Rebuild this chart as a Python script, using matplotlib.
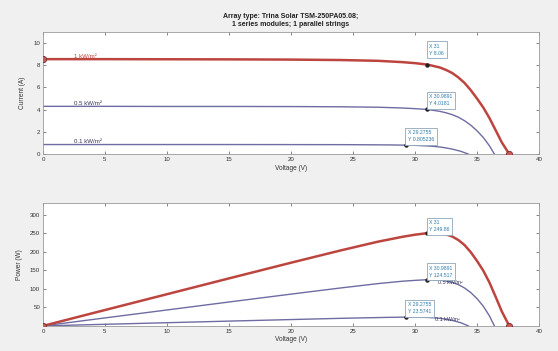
import matplotlib
matplotlib.use('Agg')
import matplotlib.pyplot as plt

plt.rcParams['font.family'] = ['Liberation Sans', 'DejaVu Sans']

# Irradiance labels
labels = ['1 kW/m²', '0.5 kW/m²', '0.1 kW/m²']

# I-V / P-V curves
v_1000 = [0, 5, 10, 15, 20, 24, 27, 29, 30, 31, 32, 32.5, 33, 33.5, 34, 34.5, 35, 35.5, 36, 36.5, 37, 37.6]
i_1000 = [8.55, 8.55, 8.54, 8.53, 8.51, 8.47, 8.40, 8.28, 8.19, 8.06, 7.80, 7.58, 7.30, 6.90, 6.40, 5.75, 5.00, 4.20, 3.25, 2.15, 1.05, 0]
p_1000 = [0, 42.8, 85.4, 128.0, 170.2, 203.3, 226.8, 240.1, 245.7, 249.86, 249.6, 246.4, 240.9, 231.2, 217.6, 198.4, 175.0, 149.1, 117.0, 78.5, 38.9, 0]

v_500 = [0, 5, 10, 15, 20, 24, 27, 29, 30, 31, 32, 32.5, 33, 33.5, 34, 34.5, 35, 35.5, 36, 36.4]
i_500 = [4.30, 4.30, 4.29, 4.29, 4.28, 4.26, 4.22, 4.15, 4.09, 4.02, 3.85, 3.72, 3.55, 3.32, 3.00, 2.60, 2.10, 1.50, 0.75, 0]
p_500 = [0, 21.5, 42.9, 64.4, 85.6, 102.2, 113.9, 120.4, 122.7, 124.5, 123.2, 120.9, 117.2, 111.2, 102.0, 89.7, 73.5, 53.3, 27.0, 0]

v_100 = [0, 5, 10, 15, 20, 24, 26, 28, 29.28, 30, 31, 31.5, 32, 32.5, 33, 33.7, 34.3]
i_100 = [0.86, 0.86, 0.86, 0.86, 0.855, 0.85, 0.84, 0.825, 0.805, 0.785, 0.735, 0.695, 0.64, 0.555, 0.45, 0.25, 0]
p_100 = [0, 4.3, 8.6, 12.9, 17.1, 20.4, 21.8, 23.1, 23.57, 23.55, 22.8, 21.9, 20.5, 18.0, 14.9, 8.4, 0]

# data tips (maximum power points)
mpp_v = [31, 30.9891, 29.2755]
mpp_i = [8.06, 4.0181, 0.805236]
mpp_p = [249.86, 124.517, 23.5741]
mpp_v_txt = ['31', '30.9891', '29.2755']
mpp_i_txt = ['8.06', '4.0181', '0.805236']
mpp_p_txt = ['249.86', '124.517', '23.5741']

xticks = [0, 5, 10, 15, 20, 25, 30, 35, 40]
iticks = [0, 2, 4, 6, 8, 10]
pticks = [50, 100, 150, 200, 250, 300]

red = '#bd4540'
blue = '#6e6ca2'
tipc = '#2c7aa8'
fs = 4.4

fig = plt.figure(figsize=(5.58, 3.51), dpi=100, facecolor='#f0f0f0')
ax1 = fig.add_axes([0.077, 0.561, 0.889, 0.348])
ax2 = fig.add_axes([0.077, 0.0715, 0.889, 0.349])


def style(ax, yticks, ylim):
    ax.set_xlim(0, 40)
    ax.set_ylim(*ylim)
    ax.set_xticks(xticks)
    ax.set_yticks(yticks)
    ax.tick_params(direction='in', length=2.5, width=0.5, labelsize=fs,
                   colors='#555555', labelcolor='#333333', pad=2,
                   top=True, right=True)
    for s in ax.spines.values():
        s.set_color('#9a9a9a')
        s.set_linewidth(0.6)


def tip(ax, x, y, xt, yt, off):
    ax.plot(x, y, 'o', ms=2.2, color='#222222', zorder=6)
    ax.annotate('X ' + xt + '\nY ' + yt, (x, y), xytext=off,
                textcoords='offset pixels', ha='left', va='bottom',
                fontsize=3.7, color=tipc, linespacing=1.5, zorder=7,
                bbox=dict(boxstyle='square,pad=0.5', fc='white',
                          ec='#8fa6b8', lw=0.6))


# current plot
ax1.plot(v_100, i_100, color=blue, lw=1.0)
ax1.plot(v_500, i_500, color=blue, lw=1.0)
ax1.plot(v_1000, i_1000, color=red, lw=1.8)
ax1.plot([v_1000[0], v_1000[-1]], [i_1000[0], i_1000[-1]], 'o', ms=4.5,
         mfc='#c85a55', mec='#7a2a2a', mew=0.6, zorder=5)
ax1.text(2.5, i_1000[0] + 0.05, labels[0], fontsize=fs, color=red, va='bottom')
ax1.text(2.5, i_500[0] + 0.05, labels[1], fontsize=fs, color='#333355', va='bottom')
ax1.text(2.5, i_100[0] + 0.05, labels[2], fontsize=fs, color='#333355', va='bottom')
style(ax1, iticks, (0, 11))
ax1.set_xlabel('Voltage (V)', fontsize=fs + 0.3, color='#333333', labelpad=2)
ax1.set_ylabel('Current (A)', fontsize=fs + 0.3, color='#333333', labelpad=5)
ax1.set_title('Array type: Trina Solar TSM-250PA05.08;\n1 series modules; 1 parallel strings',
              fontsize=5.0, fontweight='bold', color='#222222', pad=4, linespacing=1.3)
tip(ax1, mpp_v[0], mpp_i[0], mpp_v_txt[0], mpp_i_txt[0], (2, 9))
tip(ax1, mpp_v[1], mpp_i[1], mpp_v_txt[1], mpp_i_txt[1], (2, 3))
tip(ax1, mpp_v[2], mpp_i[2], mpp_v_txt[2], mpp_i_txt[2], (2, 3))

# power plot
ax2.plot(v_100, p_100, color=blue, lw=1.0)
ax2.plot(v_500, p_500, color=blue, lw=1.0)
ax2.plot(v_1000, p_1000, color=red, lw=1.8)
ax2.plot([v_1000[0], v_1000[-1]], [p_1000[0], p_1000[-1]], 'o', ms=4.5,
         mfc='#c85a55', mec='#7a2a2a', mew=0.6, zorder=5)
ax2.text(mpp_v[1] + 0.9, mpp_p[1] - 2, labels[1], fontsize=fs - 0.5, color='#333355', va='top')
ax2.text(mpp_v[2] + 2.3, mpp_p[2] + 1, labels[2], fontsize=fs - 0.5, color='#333355', va='top')
style(ax2, pticks, (0, 330))
ax2.set_xlabel('Voltage (V)', fontsize=fs + 0.3, color='#333333', labelpad=2)
ax2.set_ylabel('Power (W)', fontsize=fs + 0.3, color='#333333', labelpad=5)
tip(ax2, mpp_v[0], mpp_p[0], mpp_v_txt[0], mpp_p_txt[0], (2, 1))
tip(ax2, mpp_v[1], mpp_p[1], mpp_v_txt[1], mpp_p_txt[1], (2, 2))
tip(ax2, mpp_v[2], mpp_p[2], mpp_v_txt[2], mpp_p_txt[2], (2, 3))

fig.savefig('out.png', dpi=100, facecolor=fig.get_facecolor())
